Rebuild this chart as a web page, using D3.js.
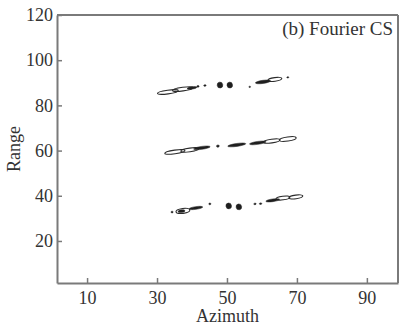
<!DOCTYPE html>
<html><head><meta charset="utf-8">
<script src="https://cdn.jsdelivr.net/npm/d3@7"></script>
<style>body{margin:0;background:#fff}svg{display:block}</style>
</head><body>
<script>
const xTicks = [10, 30, 50, 70, 90];
const yTicks = [20, 40, 60, 80, 100, 120];
const xDomain = [1.4, 98.9];
const yDomain = [1.4, 120];
const titleText = "(b) Fourier CS";
const xLabel = "Azimuth";
const yLabel = "Range";
// blobs: [azimuth, range, half-extent azimuth, half-extent range, kind]
const bandTop = [
  [33.1, 85.9, 3.0, 0.8, 'o'], [37.4, 87.2, 3.0, 0.8, 'o'], [40.0, 87.7, 1.4, 0.5, 'f'],
  [41.7, 88.4, 0.35, 0.35, 'd'], [43.7, 88.8, 0.35, 0.35, 'd'],
  [48.0, 89.0, 0.8, 1.3, 'f'], [50.8, 89.0, 0.8, 1.3, 'f'],
  [56.5, 88.2, 0.25, 0.3, 'd'], [60.3, 90.4, 2.2, 0.7, 'f'], [63.7, 91.5, 2.0, 0.8, 'o'],
  [67.4, 92.4, 0.3, 0.3, 'd']
];
const bandMid = [
  [35.1, 59.4, 2.9, 0.8, 'o'], [39.4, 60.3, 2.6, 0.8, 'o'], [42.8, 61.2, 2.4, 0.65, 'f'],
  [47.4, 62.0, 0.4, 0.5, 'd'], [52.8, 62.5, 2.6, 0.65, 'f'], [58.8, 63.4, 2.4, 0.65, 'f'],
  [62.8, 64.2, 2.4, 0.8, 'o'], [67.4, 65.1, 2.4, 0.9, 'o']
];
const bandBot = [
  [34.3, 32.8, 0.3, 0.4, 'd'], [37.4, 33.3, 2.0, 1.1, 'o'], [37.0, 33.2, 1.0, 0.6, 'f'],
  [41.1, 34.6, 2.0, 0.6, 'f'], [45.1, 36.4, 0.3, 0.4, 'd'],
  [50.5, 35.5, 0.8, 1.3, 'f'], [53.4, 35.1, 0.8, 1.3, 'f'],
  [58.0, 36.4, 0.35, 0.35, 'd'], [59.6, 36.5, 0.35, 0.35, 'd'],
  [63.1, 38.0, 2.0, 0.6, 'f'], [66.0, 39.0, 2.0, 0.8, 'o'], [69.7, 39.5, 2.0, 0.8, 'o']
];

const W = 400, H = 325;
const m = {l: 57, r: 2, t: 15, b: 42};
const svg = d3.select("body").append("svg").attr("width", W).attr("height", H);
const x = d3.scaleLinear().domain(xDomain).range([m.l, W - m.r]);
const y = d3.scaleLinear().domain(yDomain).range([H - m.b, m.t]);
const font = "'Liberation Serif','Times New Roman',serif";
const axisCol = "#7a7a7a", textCol = "#333";

const blobs = bandTop.concat(bandMid, bandBot);
const order = {o: 0, f: 1, d: 2};
blobs.sort((a, b) => order[a[4]] - order[b[4]]);
svg.append("g").selectAll("ellipse").data(blobs).join("ellipse")
  .attr("transform", d => `translate(${x(d[0])},${y(d[1])}) rotate(-8)`)
  .attr("rx", d => x(d[0] + d[2]) - x(d[0]))
  .attr("ry", d => y(d[1]) - y(d[1] + d[3]))
  .attr("fill", d => d[4] === 'o' ? "none" : "#1e1e1e")
  .attr("stroke", "#2a2a2a")
  .attr("stroke-width", d => d[4] === 'o' ? 1.1 : 0.5);

const gx = svg.append("g").attr("transform", `translate(0,${H - m.b})`)
  .call(d3.axisBottom(x).tickValues(xTicks).tickSizeInner(-5).tickSizeOuter(0).tickPadding(8));
const gy = svg.append("g").attr("transform", `translate(${m.l},0)`)
  .call(d3.axisLeft(y).tickValues(yTicks).tickSizeInner(-5).tickSizeOuter(0).tickPadding(9));
[gx, gy].forEach(g => {
  g.select(".domain").attr("stroke", axisCol).attr("stroke-width", 2);
  g.selectAll(".tick line").attr("stroke", axisCol).attr("stroke-width", 1.5);
  g.selectAll(".tick text").attr("fill", textCol).style("font-family", font).style("font-size", "18px");
});
gy.selectAll(".tick text").attr("x", -4);
svg.append("line").attr("x1", m.l).attr("x2", W - m.r).attr("y1", m.t).attr("y2", m.t)
  .attr("stroke", axisCol).attr("stroke-width", 2);
svg.append("line").attr("x1", W - m.r).attr("x2", W - m.r).attr("y1", m.t).attr("y2", H - m.b)
  .attr("stroke", axisCol).attr("stroke-width", 2);

svg.append("text").attr("x", W - 7).attr("y", 35).attr("text-anchor", "end")
  .attr("fill", textCol).style("font-family", font).style("font-size", "19px").text(titleText);
svg.append("text").attr("x", (x(xDomain[0]) + x(xDomain[1])) / 2).attr("y", 322).attr("text-anchor", "middle")
  .attr("fill", textCol).style("font-family", font).style("font-size", "18px").text(xLabel);
svg.append("text").attr("transform", `translate(20,149) rotate(-90)`).attr("text-anchor", "middle")
  .attr("fill", textCol).style("font-family", font).style("font-size", "18px").text(yLabel);
</script>
</body></html>
